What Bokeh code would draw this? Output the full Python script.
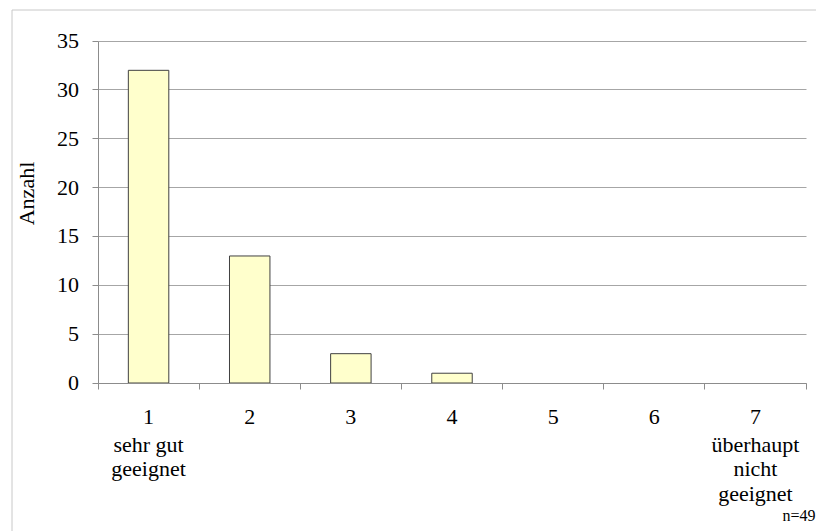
from math import pi

from bokeh.plotting import figure
from bokeh.models import (Range1d, LinearAxis, FixedTicker, Grid,
                          ColumnDataSource, CDSView, BooleanFilter)
from bokeh.core.properties import value
from bokeh.embed import file_html
from bokeh.resources import INLINE

# Rating scale 1..7 and number of answers per rating
ratings = [1, 2, 3, 4, 5, 6, 7]
counts = [32, 13, 3, 1, 0, 0, 0]
rating_digits = ["1", "2", "3", "4", "5", "6", "7"]
rating_notes = ["sehr gut\ngeeignet", "", "", "", "", "",
                "überhaupt\nnicht\ngeeignet"]
y_ticks = [0, 5, 10, 15, 20, 25, 30, 35]
y_title = "Anzahl"
n_note = "n=49"

FONT = "Liberation Serif"
TEXT_SIZE = "22px"
NOTE_SIZE = "16px"
GRID_GRAY = "#a6a6a6"
AXIS_GRAY = "#8c8c8c"
FRAME_GRAY = "#c8c8c8"
BAR_FILL = "#FFFFCC"
BAR_LINE = "#404040"

# page size and the pixel box of the value area
W, H = 816, 531
PLOT_L, PLOT_R, PLOT_T, PLOT_B = 97.5, 805.5, 40.5, 382.5
X_LO, X_HI = 0.5, 7.5
Y_LO, Y_HI = 0, 35
PX_X = (PLOT_R - PLOT_L) / (X_HI - X_LO)
PX_Y = (PLOT_B - PLOT_T) / (Y_HI - Y_LO)


def x_at(px):
    """data x for a horizontal pixel position"""
    return X_LO + (px - PLOT_L) / PX_X


def y_at(py):
    """data y for a vertical pixel position (measured from the top)"""
    return Y_LO + (PLOT_B - py) / PX_Y


p = figure(width=W, height=H, output_backend="svg", toolbar_location=None,
           x_range=Range1d(x_at(0), x_at(W)), y_range=Range1d(y_at(H), y_at(0)),
           x_axis_location=None, y_axis_location=None, min_border=0)
p.outline_line_color = None
p.background_fill_color = "white"
p.border_fill_color = "white"
for g in p.grid:
    g.visible = False

# light frame around the whole chart
p.quad(left=x_at(11.5), right=x_at(W + 20), top=y_at(9.5), bottom=y_at(H + 20),
       fill_color=None, line_color=FRAME_GRAY, line_width=1)

# horizontal grid lines across the value area only
grid = Grid(dimension=1, ticker=FixedTicker(ticks=y_ticks, minor_ticks=[]),
            grid_line_color=GRID_GRAY, grid_line_width=1)
grid.cross_bounds = (X_LO, X_HI)
p.add_layout(grid)

# bars (empty categories get no bar)
bars = ColumnDataSource(data=dict(rating=ratings, count=counts))
p.vbar(x="rating", top="count", width=0.4, source=bars,
       view=CDSView(filter=BooleanFilter([c > 0 for c in counts])),
       fill_color=BAR_FILL, line_color=BAR_LINE, line_width=1)

# value axis
yax = LinearAxis(fixed_location=X_LO, bounds=(Y_LO, Y_HI),
                 ticker=FixedTicker(ticks=y_ticks, minor_ticks=[]))
yax.major_label_text_font = FONT
yax.major_label_text_font_size = TEXT_SIZE
yax.major_label_text_color = "black"
yax.major_label_standoff = 13
yax.major_tick_out = 6
yax.major_tick_in = 0
yax.major_tick_line_color = AXIS_GRAY
yax.axis_line_color = AXIS_GRAY
p.add_layout(yax, "left")

# category axis: rating numbers, separator ticks between the categories
boundaries = [r - 0.5 for r in ratings] + [ratings[-1] + 0.5]
xax = LinearAxis(fixed_location=Y_LO, bounds=(X_LO, X_HI),
                 ticker=FixedTicker(ticks=ratings, minor_ticks=boundaries))
xax.major_label_overrides = dict(zip(ratings, rating_digits))
xax.major_label_text_font = FONT
xax.major_label_text_font_size = TEXT_SIZE
xax.major_label_text_color = "black"
xax.major_label_standoff = 21
xax.major_tick_out = 0
xax.major_tick_in = 0
xax.major_tick_line_color = None
xax.minor_tick_out = 6
xax.minor_tick_in = 0
xax.minor_tick_line_color = AXIS_GRAY
xax.axis_line_color = AXIS_GRAY
p.add_layout(xax, "below")

text_style = dict(text_font=value(FONT), text_font_size=TEXT_SIZE,
                  text_color="black")

# value axis title
p.text(x=[x_at(13)], y=[y_at(193)], text=[y_title], angle=pi / 2,
       text_align="center", text_baseline="top", **text_style)

# verbal anchors below the end points of the scale
note_x = [r for r, n in zip(ratings, rating_notes) if n]
note_text = [n for n in rating_notes if n]
p.text(x=note_x, y=y_at(431), text=note_text, text_align="center",
       text_baseline="top", text_line_height=0.98, **text_style)

# sample size note, bottom right
p.text(x=[x_at(815)], y=[y_at(506)], text=[n_note], text_align="right",
       text_baseline="top", text_font=value(FONT),
       text_font_size=NOTE_SIZE, text_color="black")

open("out.html", "w").write(file_html(p, INLINE))
